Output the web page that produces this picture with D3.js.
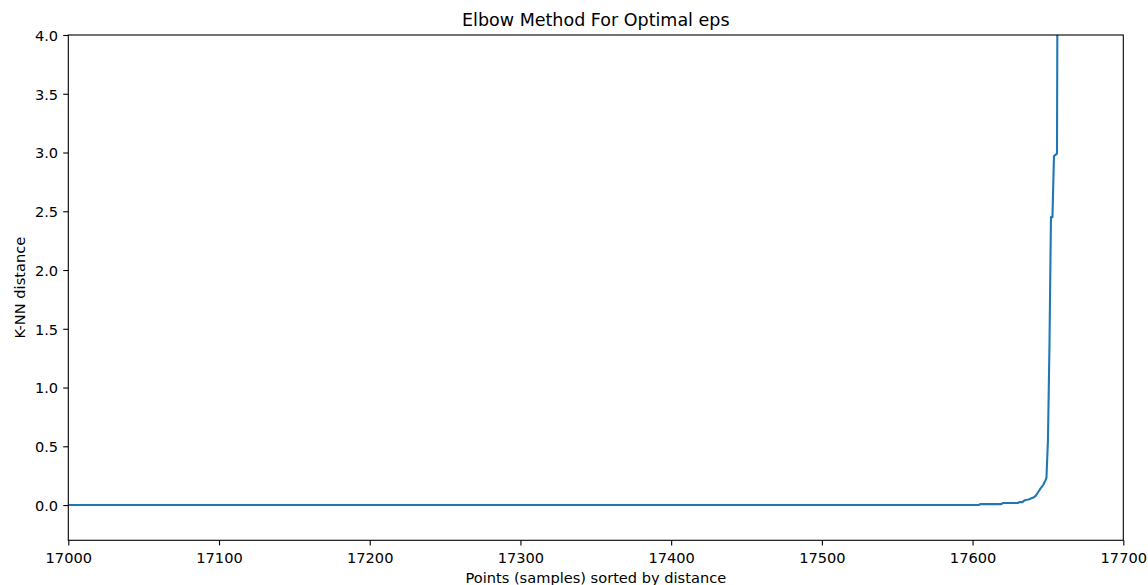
<!DOCTYPE html>
<html>
<head>
<meta charset="utf-8">
<script src="https://cdn.jsdelivr.net/npm/d3@7"></script>
<style>
  html, body { margin: 0; padding: 0; background: #fff; }
  svg { display: block; font-family: "DejaVu Sans", sans-serif; }
</style>
</head>
<body>
<svg id="chart" width="1148" height="585"></svg>
<script>
// Sorted k-nearest-neighbour distances: the sample index at each point where the curve changes
const sampleIndex = [
  17000, 17604, 17605, 17619, 17620, 17630, 17631, 17633,
  17634, 17635, 17636, 17637, 17638, 17639, 17640, 17641,
  17642, 17643, 17644, 17645, 17646, 17647, 17648, 17649,
  17650, 17651, 17652, 17653, 17654, 17655, 17656, 17657
];
const knnDistance = [
  0.0, 0.0, 0.008, 0.008, 0.017, 0.017, 0.025, 0.025,
  0.035, 0.043, 0.045, 0.048, 0.052, 0.057, 0.062, 0.07,
  0.08, 0.1, 0.12, 0.14, 0.156, 0.175, 0.2, 0.23,
  0.55, 1.35, 2.45, 2.45, 2.97, 2.98, 2.99, 7.5
];

const xTicks = [17000, 17100, 17200, 17300, 17400, 17500, 17600, 17700];
const yTicks = [0.0, 0.5, 1.0, 1.5, 2.0, 2.5, 3.0, 3.5, 4.0];
const xDomain = [17000, 17700];
const yDomain = [-0.3, 4.0];

const titleText = "Elbow Method For Optimal eps";
const xLabelText = "Points (samples) sorted by distance";
const yLabelText = "K-NN distance";

const points = sampleIndex.map((x, i) => ({ x, y: knnDistance[i] }));

const svg = d3.select("#chart");
const plot = { left: 68.3, right: 1123.3, top: 35, bottom: 540.3 };
const labelSize = "14.6px";
const titleSize = "17.5px";

const x = d3.scaleLinear().domain(xDomain).range([plot.left, plot.right]);
const y = d3.scaleLinear().domain(yDomain).range([plot.bottom, plot.top]);

svg.append("defs").append("clipPath").attr("id", "plot-clip")
  .append("rect")
  .attr("x", plot.left).attr("y", plot.top)
  .attr("width", plot.right - plot.left).attr("height", plot.bottom - plot.top);

// Curve
const line = d3.line().x(d => x(d.x)).y(d => y(d.y));
svg.append("path")
  .datum(points)
  .attr("clip-path", "url(#plot-clip)")
  .attr("fill", "none")
  .attr("stroke", "#1f77b4")
  .attr("stroke-width", 2.1)
  .attr("stroke-linejoin", "round")
  .attr("stroke-linecap", "square")
  .attr("d", line);

// Axes
const tickLen = 5.1, tickPad = 5.1;
const xAxis = svg.append("g")
  .attr("transform", `translate(0,${plot.bottom})`)
  .call(d3.axisBottom(x).tickValues(xTicks).tickFormat(d3.format("d"))
    .tickSize(tickLen).tickPadding(tickPad).tickSizeOuter(0));
const yAxis = svg.append("g")
  .attr("transform", `translate(${plot.left},0)`)
  .call(d3.axisLeft(y).tickValues(yTicks).tickFormat(d3.format(".1f"))
    .tickSize(tickLen).tickPadding(tickPad).tickSizeOuter(0));

[xAxis, yAxis].forEach(g => {
  g.select(".domain").remove();
  g.selectAll(".tick line").attr("stroke", "#000").attr("stroke-width", 1.1);
  g.selectAll(".tick text")
    .attr("fill", "#000")
    .style("font-family", "'DejaVu Sans', sans-serif")
    .style("font-size", labelSize);
});
xAxis.selectAll(".tick text").attr("y", 22.7).attr("dy", 0);
yAxis.selectAll(".tick text").attr("dy", "0.365em");

// Frame
svg.append("rect")
  .attr("x", plot.left).attr("y", plot.top)
  .attr("width", plot.right - plot.left).attr("height", plot.bottom - plot.top)
  .attr("fill", "none").attr("stroke", "#000").attr("stroke-width", 1.1);

// Texts
svg.append("text")
  .attr("x", (plot.left + plot.right) / 2).attr("y", 26)
  .attr("text-anchor", "middle")
  .style("font-size", titleSize).attr("fill", "#000")
  .text(titleText);

svg.append("text")
  .attr("x", (plot.left + plot.right) / 2).attr("y", 583.4)
  .attr("text-anchor", "middle")
  .style("font-size", labelSize).attr("fill", "#000")
  .text(xLabelText);

svg.append("text")
  .attr("transform", `translate(25,${(plot.top + plot.bottom) / 2}) rotate(-90)`)
  .attr("text-anchor", "middle")
  .style("font-size", labelSize).attr("fill", "#000")
  .text(yLabelText);
</script>
</body>
</html>
